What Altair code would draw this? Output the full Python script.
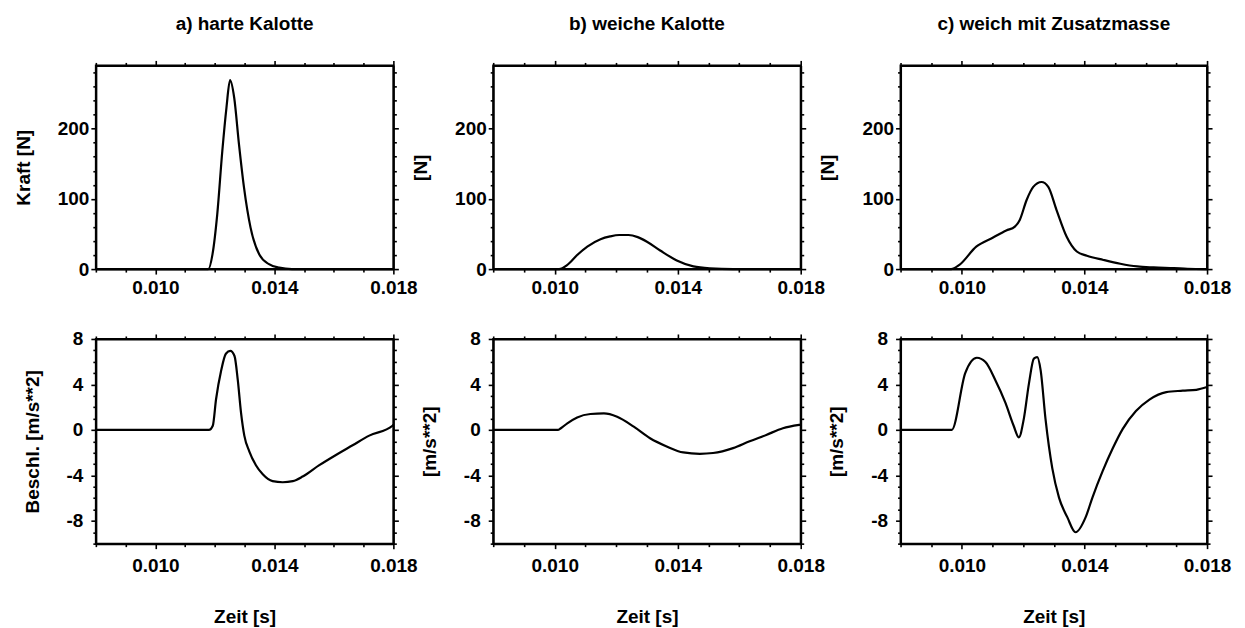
import altair as alt
import pandas as pd

FONT = "Liberation Sans"

# ---- axis ticks / labels ----
x_ticks = [0.008, 0.009, 0.010, 0.011, 0.012, 0.013, 0.014, 0.015, 0.016, 0.017, 0.018]
x_labels = ["0.010", "0.014", "0.018"]
force_ticks = [0, 20, 40, 60, 80, 100, 120, 140, 160, 180, 200, 220, 240, 260, 280]
force_labels = [0, 100, 200]
acc_ticks = [-10, -9, -8, -7, -6, -5, -4, -3, -2, -1, 0, 1, 2, 3, 4, 5, 6, 7, 8]
acc_labels = [-8, -4, 0, 4, 8]

titles = ["a) harte Kalotte", "b) weiche Kalotte", "c) weich mit Zusatzmasse"]
force_titles = ["Kraft [N]", "[N]", "[N]"]
acc_titles = ["Beschl. [m/s**2]", "[m/s**2]", "[m/s**2]"]
x_title = "Zeit [s]"

# ---- a) harte Kalotte ----
a_force_t = [0.008, 0.0115, 0.01178, 0.01192, 0.01208, 0.01225, 0.01239, 0.01251, 0.01265,
             0.01281, 0.01298, 0.0132, 0.01349, 0.01382, 0.01416, 0.01459, 0.018]
a_force_v = [0, 0, 0, 21, 78, 168, 230, 269, 244, 178, 116, 59, 21, 7, 2, 0, 0]
a_acc_t = [0.008, 0.0118, 0.01193, 0.01204, 0.01221, 0.01237, 0.01252, 0.01266, 0.01277,
           0.01288, 0.01299, 0.01316, 0.01338, 0.01361, 0.01394, 0.01428, 0.01462, 0.01495,
           0.01551, 0.01607, 0.01663, 0.01719, 0.01797, 0.018]
a_acc_v = [0, 0, 0.37, 2.7, 5.2, 6.7, 6.95, 6.5, 4.4, 1.5, -0.5, -1.9, -3.1, -3.9, -4.5, -4.6,
           -4.5, -4.1, -3.1, -2.2, -1.35, -0.5, 0.37, 0.45]

# ---- b) weiche Kalotte ----
b_force_t = [0.008, 0.01014, 0.01041, 0.01073, 0.01106, 0.01149, 0.0118, 0.0121, 0.0124,
             0.0127, 0.013, 0.01343, 0.01397, 0.01451, 0.01505, 0.0158, 0.018]
b_force_v = [0, 0, 6, 20, 32, 42.5, 46.5, 48.5, 48.5, 45.5, 39, 26.5, 12.3, 3.8, 1, 0, 0]
b_acc_t = [0.008, 0.0101, 0.0102, 0.01041, 0.01073, 0.01116, 0.0116, 0.01203, 0.01257, 0.0131,
           0.01364, 0.01418, 0.01472, 0.01515, 0.0158, 0.01634, 0.01688, 0.01742, 0.01795, 0.018]
b_acc_v = [0, 0, 0.15, 0.58, 1.1, 1.4, 1.45, 1.16, 0.29, -0.73, -1.45, -1.98, -2.1, -2.03,
           -1.6, -1.0, -0.44, 0.15, 0.44, 0.46]

# ---- c) weich mit Zusatzmasse ----
c_force_t = [0.008, 0.00965, 0.00992, 0.01047, 0.01102, 0.01145, 0.01173, 0.01189, 0.01211,
             0.01233, 0.0126, 0.01282, 0.01309, 0.01342, 0.01375, 0.01408, 0.01462, 0.01517,
             0.01572, 0.01626, 0.01692, 0.01736, 0.018]
c_force_v = [0, 0, 6, 32, 45, 55, 60.5, 70, 98, 117, 124, 117, 84, 46, 25, 19, 13, 7.6, 3.8,
             2.4, 1.4, 0.5, 0]
c_acc_t = [0.008, 0.00967, 0.01011, 0.01049, 0.01077, 0.01109, 0.01142, 0.01169, 0.01186,
           0.01202, 0.01219, 0.01235, 0.01246, 0.01257, 0.01273, 0.01295, 0.01317, 0.01344,
           0.01371, 0.01404, 0.01426, 0.01459, 0.01492, 0.01525, 0.01568, 0.01612, 0.01667,
           0.01721, 0.01765, 0.018]
c_acc_v = [0, 0, 5.0, 6.35, 5.97, 4.4, 2.4, 0.37, -0.65, 0.95, 4.1, 6.27, 6.4, 5.26, 0.95,
           -3.36, -5.95, -7.67, -9.0, -7.67, -5.95, -3.65, -1.64, 0.09, 1.66, 2.67, 3.33,
           3.45, 3.53, 3.77]

panel_widths = [298, 308, 307]
top_height = 204
bottom_height = 205


def panel(t, v, ydom, yticks, ylabels, ytitle, width, height, top_row, title=None):
    df = pd.DataFrame({"t": t, "v": v})
    x_major = "indexof(" + str(x_labels) + ", format(datum.value, '.3f')) >= 0"
    y_major = "indexof(" + str(ylabels) + ", datum.value) >= 0"
    x_size = {"condition": {"test": x_major, "value": 5}, "value": 3}
    y_size = {"condition": {"test": y_major, "value": 5}, "value": 3}
    xscale = alt.Scale(domain=[0.008, 0.018], nice=False, zero=False)
    yscale = alt.Scale(domain=ydom, nice=False, zero=False)

    common = dict(domainColor="black", domainWidth=2, tickColor="black", tickWidth=1.6,
                  grid=False, labelOverlap=False, labelFlush=False,
                  labelFont=FONT, labelFontSize=19, labelFontWeight="bold", labelColor="black",
                  titleFont=FONT, titleFontSize=19, titleFontWeight="bold", titleColor="black")

    x_axis_kw = dict(orient="bottom", values=x_ticks, tickSize=x_size,
                     labelExpr=x_major + " ? format(datum.value, '.3f') : ''",
                     labelPadding=4 if top_row else 8, **common)
    if top_row:
        x_axis = alt.Axis(title=None, **x_axis_kw)
    else:
        x_axis = alt.Axis(title=x_title, titlePadding=32, **x_axis_kw)

    y_axis = alt.Axis(orient="left", values=yticks, tickSize=y_size,
                      labelExpr=y_major + " ? toString(datum.value) : ''",
                      labelPadding=2 if top_row else 8, title=ytitle, titlePadding=24,
                      **common)

    main = alt.Chart(df).mark_line(color="black", strokeWidth=2.2, interpolate="monotone").encode(
        x=alt.X("t:Q", scale=xscale, axis=x_axis),
        y=alt.Y("v:Q", scale=yscale, axis=y_axis),
    )
    mirror = alt.Chart(df).mark_line(opacity=0).encode(
        x=alt.X("t:Q", scale=xscale,
                axis=alt.Axis(orient="top", values=x_ticks, tickSize=x_size, labels=False,
                              title=None, domainColor="black", domainWidth=2,
                              tickColor="black", tickWidth=1.6, grid=False)),
        y=alt.Y("v:Q", scale=yscale,
                axis=alt.Axis(orient="right", values=yticks, tickSize=y_size, labels=False,
                              title=None, domainColor="black", domainWidth=2,
                              tickColor="black", tickWidth=1.6, grid=False)),
    )
    ch = alt.layer(main, mirror).resolve_axis(x="independent", y="independent")
    if title is not None:
        ch = ch.properties(width=width, height=height,
                           title=alt.Title(title, font=FONT, fontSize=19, fontWeight="bold",
                                           color="black", anchor="middle", offset=26))
    else:
        ch = ch.properties(width=width, height=height)
    return ch


force_t = [a_force_t, b_force_t, c_force_t]
force_v = [a_force_v, b_force_v, c_force_v]
acc_t = [a_acc_t, b_acc_t, c_acc_t]
acc_v = [a_acc_v, b_acc_v, c_acc_v]

top = [panel(force_t[i], force_v[i], [0, 290], force_ticks, force_labels, force_titles[i],
             panel_widths[i], top_height, True, titles[i]) for i in range(3)]
bottom = [panel(acc_t[i], acc_v[i], [-10, 8], acc_ticks, acc_labels, acc_titles[i],
                panel_widths[i], bottom_height, False) for i in range(3)]

chart = alt.concat(*top, *bottom, columns=3, spacing={"row": 70, "column": 100},
                   bounds="flush").properties(
    padding=5, background="white"
).configure_view(stroke="black", strokeWidth=2)

chart.save("out.html", embed_options={"renderer": "svg", "actions": False})
